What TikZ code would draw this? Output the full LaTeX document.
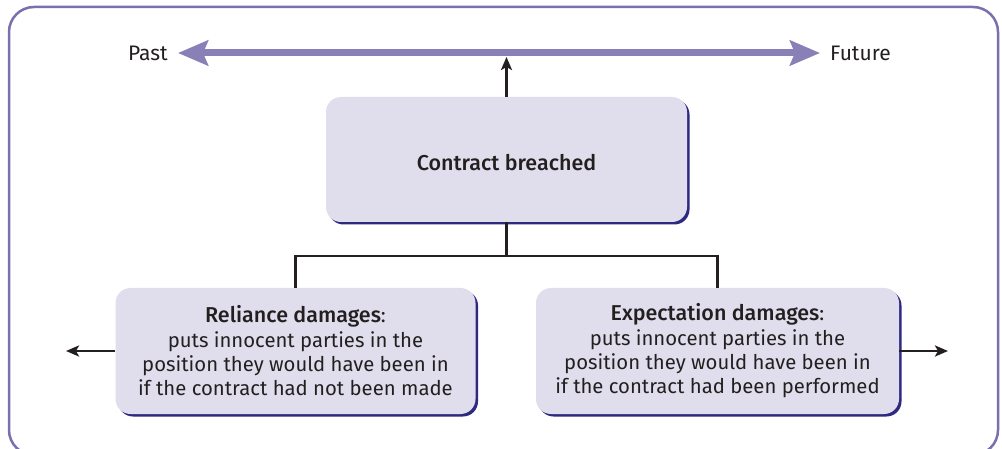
\documentclass[tikz,border=0pt]{standalone}
\usepackage{fontspec}
\setmainfont{Fira Sans}
\newfontfamily\medfont{Fira Sans Medium}
\usetikzlibrary{arrows.meta,shadows}
\definecolor{boxfill}{RGB}{224,222,236}
\definecolor{boxshadow}{RGB}{46,42,128}
\definecolor{framecol}{RGB}{122,112,174}
\definecolor{timecol}{RGB}{136,128,182}
\definecolor{txt}{RGB}{35,31,32}
\newcommand{\headtext}[1]{{\fontsize{21.5}{24.3}\selectfont\medfont #1}}
\tikzset{
  boxnode/.style={fill=boxfill, rounded corners=15pt, align=center, text=txt,
    font=\fontsize{20.3}{24.3}\selectfont, inner sep=0pt,
    drop shadow={shadow xshift=2.5pt, shadow yshift=-2.5pt, fill=boxshadow, opacity=1}},
  conn/.style={draw=txt, line width=2.5pt},
  sidearrow/.style={conn, -{Stealth[length=13pt,width=11pt,inset=3pt]}},
  timeline/.style={draw=timecol, line width=7pt, {Stealth[length=30pt,width=25pt,inset=5pt]}-{Stealth[length=30pt,width=25pt,inset=5pt]}},
  lbl/.style={text=txt, font=\fontsize{21}{24}\selectfont, inner sep=0pt}
}
\begin{document}
\begin{tikzpicture}[x=1pt,y=-1pt]
\useasboundingbox (0,0) rectangle (1002,449);
\draw[framecol, line width=2.5pt, rounded corners=25pt] (9,7) rectangle (998,455);
% timeline
\coordinate (pastend) at (178,53);
\coordinate (futend) at (820,53);
\draw[timeline] (pastend) -- (futend);
\node[lbl, anchor=east] (past) at (168,53) {Past};
\node[lbl, anchor=west] (fut) at (830,53) {Future};
% boxes
\node[boxnode, minimum width=361pt, minimum height=125pt] (cb) at (506.5,159.5) {\raisebox{-11pt}[0pt][0pt]{\headtext{Contract breached}}};
\node[boxnode, minimum width=360pt, minimum height=126pt] (rel) at (295.5,351)
  {\headtext{Reliance damages}:\\puts innocent parties in the\\position they would have been in\\if the contract had not been made};
\node[boxnode, minimum width=363pt, minimum height=126pt] (exp) at (717.5,351)
  {\headtext{Expectation damages}:\\puts innocent parties in the\\position they would have been in\\if the contract had been performed};
% connectors
\coordinate (tltop) at (506.5,57);
\draw[sidearrow] (cb.north) -- (tltop);
\coordinate (j) at (506.5,256);
\draw[conn] (cb.south) -- (j);
\draw[conn] (rel.north) |- (j) -| (exp.north);
\coordinate (lend) at (66,351);
\coordinate (rend) at (948,351);
\draw[sidearrow] (rel.west) -- (lend);
\draw[sidearrow] (exp.east) -- (rend);
\end{tikzpicture}
\end{document}
